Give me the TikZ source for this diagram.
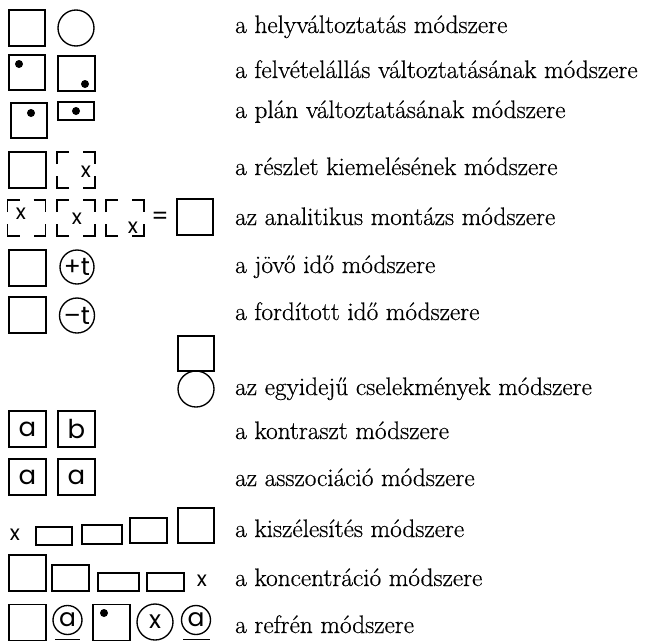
\documentclass[tikz,border=0pt]{standalone}
\usepackage{fontspec}
\newfontfamily\symfont{Poppins}
\newfontfamily\capfont{Latin Modern Roman}[FakeBold=0.5]
\usetikzlibrary{positioning}

\tikzset{
  frame/.style={draw, line width=1.35pt, inner sep=0pt, font=\symfont\fontsize{26}{28}\selectfont},
  ring/.style={frame, circle, font=\symfont\fontsize{25}{27}\selectfont},
  blob/.style={circle, fill, inner sep=0pt, minimum size=8pt},
  caption/.style={anchor=base west, inner sep=0pt, font=\capfont\fontsize{25.3}{28}\selectfont},
  mark x/.style={inner sep=0pt, font=\symfont\fontsize{21}{23}\selectfont},
  cornerbox/.pic={
    \draw[line width=1.35pt] (-19,-6) -- (-19,-18) -- (-7,-18);
    \draw[line width=1.35pt] (7,-18) -- (19,-18) -- (19,-6);
    \draw[line width=1.35pt] (19,6) -- (19,18) -- (7,18);
    \draw[line width=1.35pt] (-7,18) -- (-19,18) -- (-19,6);
  }
}

\begin{document}
\begin{tikzpicture}[x=1pt,y=-1pt]
\useasboundingbox (0,0) rectangle (666,640);

% row 1
\node[frame, minimum width=36pt, minimum height=36pt] (sqA) at (27,28) {};
\node[ring, minimum size=36pt] (ciA) at (76,28) {};
\node[caption] (tA) at (235,33) {a helyváltoztatás módszere};

% row 2
\node[frame, minimum width=36pt, minimum height=35pt] (sqB1) at (27,72.5) {};
\node[blob] (dB1) at (19,64) {};
\node[frame, minimum width=37pt, minimum height=35pt] (sqB2) at (76.5,73.5) {};
\node[blob] (dB2) at (85,84) {};
\node[caption] (tB) at (235,78) {a felvételállás változtatásának módszere};

% row 3
\node[frame, minimum width=36pt, minimum height=35pt] (sqC1) at (29,120.5) {};
\node[blob] (dC1) at (31,113) {};
\node[frame, minimum width=36pt, minimum height=18pt] (sqC2) at (76,111) {};
\node[blob] (dC2) at (76,111) {};
\node[caption] (tC) at (235,118) {a plán változtatásának módszere};

% row 4
\node[frame, minimum width=37pt, minimum height=36pt] (sqD) at (27.5,170) {};
\pic at (76,170) {cornerbox};
\node[mark x] (xD) at (86,172) {x};
\node[caption] (tD) at (235,175) {a részlet kiemelésének módszere};

% row 5
\pic at (26.5,218) {cornerbox};
\node[mark x] (xE1) at (21,214) {x};
\pic at (76,218) {cornerbox};
\node[mark x] (xE2) at (77,219) {x};
\pic at (125,218) {cornerbox};
\node[mark x] (xE3) at (133,228) {x};
\node[inner sep=0pt, font=\symfont\fontsize{24}{26}\selectfont] (eqE) at (160,218) {=};
\node[frame, minimum width=36pt, minimum height=36pt] (sqE) at (195,217) {};
\node[caption] (tE) at (235,225) {az analitikus montázs módszere};

% row 6
\node[frame, minimum width=37pt, minimum height=36pt] (sqF) at (27.5,268) {};
\node[ring, minimum size=34pt] (ciF) at (77,267) {+t};
\node[caption] (tF) at (235,273) {a jövő idő módszere};

% row 7
\node[frame, minimum width=37pt, minimum height=36pt] (sqG) at (27.5,315) {};
\node[ring, minimum size=35pt] (ciG) at (77,315.5) {–t};
\node[caption] (tG) at (235,320) {a fordított idő módszere};

% row 8
\node[frame, minimum width=36pt, minimum height=35pt] (sqH) at (196,353.5) {};
\node[ring, minimum size=36pt] (ciH) at (196,389) {};
\node[caption] (tH) at (235,395) {az egyidejű cselekmények módszere};

% row 9
\node[frame, minimum width=37pt, minimum height=36pt] (sqI1) at (27.5,429) {a};
\node[frame, minimum width=37pt, minimum height=36pt] (sqI2) at (76.5,429) {b};
\node[caption] (tI) at (235,439) {a kontraszt módszere};

% row 10
\node[frame, minimum width=37pt, minimum height=36pt] (sqJ1) at (27.5,477) {a};
\node[frame, minimum width=37pt, minimum height=36pt] (sqJ2) at (76.5,477) {a};
\node[caption] (tJ) at (235,486) {az asszociáció módszere};

% row 11
\node[mark x] (xK) at (15,535) {x};
\node[frame, minimum width=36pt, minimum height=18pt] (sqK1) at (54,536) {};
\node[frame, minimum width=40pt, minimum height=19pt] (sqK2) at (102,534.5) {};
\node[frame, minimum width=37pt, minimum height=25pt] (sqK3) at (148.5,530.5) {};
\node[frame, minimum width=36pt, minimum height=35pt] (sqK4) at (196,525.5) {};
\node[caption] (tK) at (235,537) {a kiszélesítés módszere};

% row 12
\node[frame, minimum width=37pt, minimum height=36pt] (sqL1) at (27.5,573) {};
\node[frame, minimum width=37pt, minimum height=26pt] (sqL2) at (70.5,578) {};
\node[frame, minimum width=41pt, minimum height=18pt] (sqL3) at (118.5,582) {};
\node[frame, minimum width=37pt, minimum height=18pt] (sqL4) at (165.5,582) {};
\node[mark x] (xL) at (202,581) {x};
\node[caption] (tL) at (235,586) {a koncentráció módszere};

% row 13
\node[frame, minimum width=37pt, minimum height=36pt] (sqM1) at (27.5,622.5) {};
\node[ring, minimum size=29pt] (ciM1) at (67.5,620) {a};
\node[frame, minimum width=37pt, minimum height=36pt] (sqM2) at (111.5,622.5) {};
\node[blob] (dM) at (104,613) {};
\node[ring, minimum size=36pt] (ciM2) at (155,622) {x};
\node[ring, minimum size=29pt] (ciM3) at (196,620) {a};
\node[caption] (tM) at (235,633) {a refrén módszere};
\draw[line width=1.35pt] (55,639.5) -- (80,639.5);
\draw[line width=1.35pt] (183,639.5) -- (210,639.5);
\end{tikzpicture}
\end{document}
